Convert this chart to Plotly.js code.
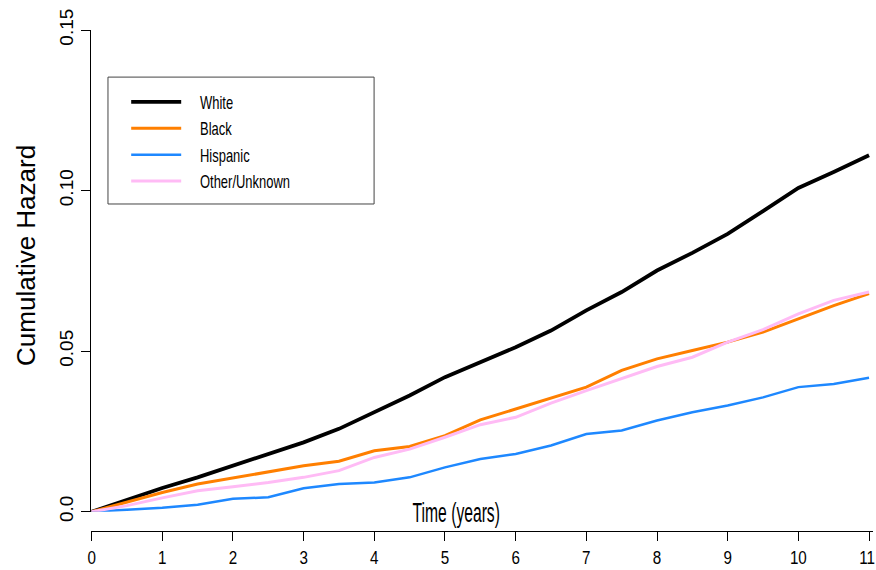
<!DOCTYPE html>
<html>
<head>
<meta charset="utf-8">
<script src="https://cdn.plot.ly/plotly-3.0.1.min.js"></script>
<style>
  html, body { margin: 0; padding: 0; background: #fff; }
  #chart { width: 876px; height: 570px; }
</style>
</head>
<body>
<div id="chart"></div>
<script>
// Time in years
const years = [0, 0.5, 1, 1.5, 2, 2.5, 3, 3.5, 4, 4.5, 5, 5.5, 6, 6.5, 7, 7.5, 8, 8.5, 9, 9.5, 10, 10.5, 11];

// Cumulative hazard by group
const white    = [0, 0.0037, 0.0074, 0.0107, 0.0143, 0.0178, 0.0216, 0.0258, 0.0310, 0.0362, 0.0419, 0.0466, 0.0512, 0.0564, 0.0627, 0.0684, 0.0751, 0.0806, 0.0865, 0.0936, 0.1008, 0.1058, 0.1110];
const black    = [0, 0.0029, 0.0060, 0.0086, 0.0105, 0.0123, 0.0143, 0.0157, 0.0190, 0.0203, 0.0237, 0.0286, 0.0320, 0.0356, 0.0388, 0.0440, 0.0476, 0.0502, 0.0528, 0.0559, 0.0601, 0.0642, 0.0679];
const hispanic = [0, 0.0005, 0.0012, 0.0022, 0.0040, 0.0045, 0.0073, 0.0086, 0.0091, 0.0107, 0.0138, 0.0164, 0.0180, 0.0206, 0.0242, 0.0253, 0.0284, 0.0310, 0.0331, 0.0356, 0.0388, 0.0398, 0.0417];
const other    = [0, 0.0019, 0.0043, 0.0065, 0.0078, 0.0091, 0.0107, 0.0128, 0.0169, 0.0195, 0.0232, 0.0271, 0.0294, 0.0338, 0.0377, 0.0414, 0.0452, 0.0481, 0.0528, 0.0567, 0.0616, 0.0658, 0.0684];

const seriesNames = ['White', 'Black', 'Hispanic', 'Other/Unknown'];

// Axis ticks
const xTickVals = [0, 1, 2, 3, 4, 5, 6, 7, 8, 9, 10, 11];
const xTickText = ['0', '1', '2', '3', '4', '5', '6', '7', '8', '9', '10', '11'];
const yTickVals = [0, 0.05, 0.10, 0.15];
const yTickText = ['0.0', '0.05', '0.10', '0.15'];

const sans = '"Liberation Sans", Arial, sans-serif';

const styles = [
  { color: '#000000', width: 3.8 },
  { color: '#ff7f00', width: 3 },
  { color: '#1e88ff', width: 2.5 },
  { color: '#ffbbf5', width: 3 }
];
const values = [white, black, hispanic, other];

const traces = values.map((v, i) => ({
  x: years,
  y: v,
  type: 'scatter',
  mode: 'lines',
  name: seriesNames[i],
  legendgroup: 'g' + i,
  line: { color: styles[i].color, width: styles[i].width }
}));

const layout = {
  width: 876,
  height: 570,
  margin: { l: 91, r: 3, t: 30, b: 39 },
  paper_bgcolor: '#ffffff',
  plot_bgcolor: '#ffffff',
  showlegend: true,
  xaxis: {
    anchor: 'free',
    position: 0,
    range: [-0.0085, 11.056],
    tickvals: xTickVals,
    ticktext: xTickText,
    showgrid: false,
    zeroline: false,
    showline: true,
    linecolor: '#000',
    linewidth: 1,
    ticks: 'outside',
    ticklen: 9,
    tickcolor: '#000',
    ticklabeloverflow: 'allow',
    tickfont: { family: sans, size: 19, color: '#000' },
    fixedrange: true
  },
  yaxis: {
    domain: [0.0385, 1],
    range: [0, 0.15],
    tickvals: yTickVals,
    ticktext: yTickText,
    tickangle: -90,
    showgrid: false,
    zeroline: false,
    showline: true,
    linecolor: '#000',
    linewidth: 1,
    ticks: 'outside',
    ticklen: 9,
    tickcolor: '#000',
    tickfont: { family: sans, size: 19, color: '#000' },
    fixedrange: true
  },
  legend: {
    x: 0.045,
    y: 0.8928,
    xanchor: 'left',
    yanchor: 'top',
    bgcolor: 'rgba(0,0,0,0)',
    borderwidth: 0,
    font: { family: sans, size: 18, color: '#000' },
    traceorder: 'grouped',
    tracegroupgap: 0,
    itemwidth: 50
  },
  shapes: [
    { type: 'rect', xref: 'paper', yref: 'paper', x0: 0.0217, x1: 0.362, y0: 0.6527, y1: 0.906,
      line: { color: '#444', width: 1 }, fillcolor: 'rgba(0,0,0,0)' }
  ],
  annotations: [
    { text: 'Time (years)', xref: 'x', yref: 'paper', x: 5.163, y: 0.0699, yanchor: 'top', xanchor: 'center',
      showarrow: false, font: { family: sans, size: 27, color: '#000' } },
    { text: 'Cumulative Hazard', xref: 'paper', yref: 'paper', x: -0.0832, y: 0.5509, textangle: -90,
      xanchor: 'center', yanchor: 'middle', showarrow: false,
      font: { family: sans, size: 26, color: '#000' } }
  ]
};

// Horizontal compression of the narrow-looking texts (as in the reference)
function squeeze(el, s, dx) {
  const x = parseFloat(el.getAttribute('x') || '0');
  const prev = el.getAttribute('transform') || '';
  el.setAttribute('transform', prev + ` translate(${x + (dx || 0)},0) scale(${s},1) translate(${-x},0)`);
}

Plotly.newPlot('chart', traces, layout, { displayModeBar: false, staticPlot: true }).then(gd => {
  gd.querySelectorAll('.xtick text').forEach(t => {
    squeeze(t, 0.8, 0);
    const right = t.getBoundingClientRect().right;
    if (right > 875) {
      t.setAttribute('transform', `translate(${875 - right},0) ` + (t.getAttribute('transform') || ''));
    }
  });
  gd.querySelectorAll('.annotation-text').forEach(t => {
    if (t.textContent.indexOf('Time') === 0) squeeze(t, 0.58, 0);
  });
  gd.querySelectorAll('.legendtext').forEach(t => {
    squeeze(t, 0.72, 0);
    const left = t.getBoundingClientRect().left;
    const prev = t.getAttribute('transform') || '';
    t.setAttribute('transform', `translate(${200 - left},0) ` + prev);
  });
});
</script>
</body>
</html>
